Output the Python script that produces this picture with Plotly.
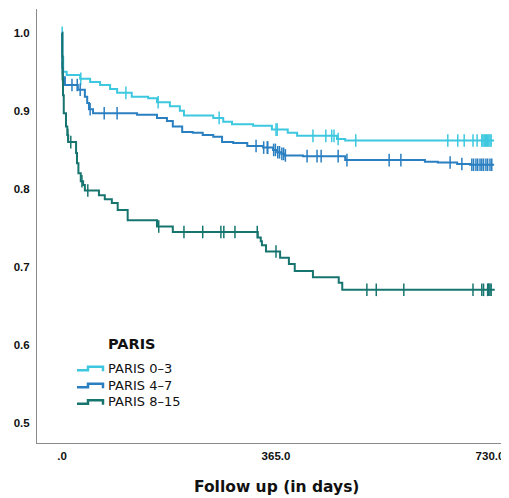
import numpy as np
import plotly.graph_objects as go

# ---- data ----
group_names = ["PARIS 0–3", "PARIS 4–7", "PARIS 8–15"]

cyan_t = [0, 0.5, 2, 8, 31, 48, 65, 82, 94, 119, 147, 162, 184, 201, 208, 258, 275, 290, 326, 358, 385, 401, 469, 483]
cyan_s = [1.0, 0.969, 0.950, 0.946, 0.941, 0.937, 0.933, 0.928, 0.923, 0.918, 0.916, 0.911, 0.906, 0.900, 0.894,
          0.891, 0.886, 0.883, 0.881, 0.876, 0.872, 0.868, 0.864, 0.862]
cyan_end = 737
cyan_cens = [0.3, 32, 109, 164, 268, 365, 367, 428, 450, 460, 464, 471, 501, 658, 675, 686, 701, 708,
             716, 718, 720, 722, 724, 726, 728, 730, 732]

blue_t = [0, 0.5, 1.7, 5, 27, 39, 43, 46, 53, 128, 162, 179, 189, 205, 223, 240, 258, 273, 292, 316, 343,
          360, 367, 374, 380, 411, 483, 619, 641, 674, 696]
blue_s = [1.0, 0.955, 0.943, 0.933, 0.927, 0.918, 0.910, 0.902, 0.897, 0.895, 0.891, 0.887, 0.880, 0.873, 0.872,
          0.869, 0.867, 0.860, 0.859, 0.855, 0.853, 0.850, 0.847, 0.845, 0.843, 0.842, 0.837, 0.835, 0.834,
          0.832, 0.831]
blue_end = 737
blue_cens = [0.6, 2, 17, 26, 31, 48, 72, 94, 331, 344, 350, 351, 361, 364, 368, 371, 375, 378, 381, 418, 435,
             442, 471, 486, 558, 578, 662, 682, 699, 702, 706, 709, 713, 716, 719, 723, 726, 730, 733]

teal_t = [0, 0.5, 1, 1.7, 3, 6.8, 9, 10.5, 24, 25.6, 28, 32, 36, 39, 63, 73, 85, 95, 112, 162, 189, 334, 339,
          341, 348, 372, 387, 397, 428, 472, 478]
teal_s = [1.0, 0.97, 0.94, 0.92, 0.897, 0.88, 0.869, 0.860, 0.846, 0.833, 0.820, 0.810, 0.805, 0.798, 0.792,
          0.787, 0.782, 0.773, 0.760, 0.752, 0.745, 0.738, 0.733, 0.728, 0.720, 0.712, 0.704, 0.695, 0.687,
          0.680, 0.671]
teal_end = 738
teal_cens = [1.2, 10, 15, 34, 44, 165, 208, 240, 271, 276, 295, 333, 365, 520, 536, 583, 701, 716, 719, 726,
             727, 728, 730, 732]

x_ticks = [0, 365, 730]
x_ticktext = [".0", "365.0", "730.0"]
y_ticks = [0.5, 0.6, 0.7, 0.8, 0.9, 1.0]
y_ticktext = ["0.5", "0.6", "0.7", "0.8", "0.9", "1.0"]
x_title = "Follow up (in days)"
legend_title = "PARIS"

colors = ["#3dc8df", "#2a7fc1", "#17756f"]

# ---- layout geometry (page pixels; the page body has an 8px margin) ----
OFF = 8
W, H = 509 - OFF, 498 - OFF
L, R, T, B = 37 - OFF, 0, 9 - OFF, 498 - 442.7
pw, ph = W - L - R, H - T - B


def px2paper(px, py):
    # px, py are page coordinates as measured on the reference
    return (px - OFF - L) / pw, (H - B - (py - OFF)) / ph


fig = go.Figure()
series = [(cyan_t, cyan_s, cyan_end, cyan_cens), (blue_t, blue_s, blue_end, blue_cens),
          (teal_t, teal_s, teal_end, teal_cens)]
for (t, s, end, cens), name, col in zip(series, group_names, colors):
    xs = list(t) + [end]
    ys = list(s) + [s[-1]]
    fig.add_trace(go.Scatter(x=xs, y=ys, mode="lines", line=dict(color=col, width=2, shape="hv"),
                             name=name, showlegend=False, hoverinfo="skip"))
    idx = np.searchsorted(np.array(t), np.array(cens), side="right") - 1
    cy = [s[i] for i in idx]
    fig.add_trace(go.Scatter(x=cens, y=cy, mode="markers",
                             marker=dict(symbol="line-ns", size=9, line=dict(color=col, width=1.5)),
                             name=name + " censored", showlegend=False, hoverinfo="skip"))

# ---- manual legend (step glyphs like the original) ----
font_main = "DejaVu Sans"
tick_font = dict(family="Liberation Sans", size=11.5, color="#111111", weight="bold")
fig.add_annotation(x=px2paper(106, 0)[0], y=px2paper(0, 344)[1], xref="paper", yref="paper",
                   text="<b>" + legend_title + "</b>", showarrow=False, xanchor="left", yanchor="middle",
                   font=dict(family=font_main, size=14.5, color="#111111"))
item_y = [368, 385, 401.5]
for name, col, yc in zip(group_names, colors, item_y):
    pts = [(77, yc + 2), (88, yc + 2), (88, yc - 1.5), (103, yc - 1.5), (103, yc + 3)]
    path = ""
    for k, (a, b) in enumerate(pts):
        xp, yp = px2paper(a, b)
        path += ("M" if k == 0 else "L") + f"{xp:.5f},{yp:.5f} "
    fig.add_shape(type="path", path=path, xref="paper", yref="paper",
                  line=dict(color=col, width=2.5))
    fig.add_annotation(x=px2paper(106, 0)[0], y=px2paper(0, yc)[1], xref="paper", yref="paper",
                       text=name, showarrow=False, xanchor="left", yanchor="middle",
                       font=dict(family=font_main, size=13, color="#111111"))

# x-axis title
fig.add_annotation(x=px2paper(276, 0)[0], y=px2paper(0, 486.5)[1], xref="paper", yref="paper",
                   text="<b>" + x_title + "</b>", showarrow=False, xanchor="center", yanchor="middle",
                   font=dict(family=font_main, size=15.5, color="#111111"))

x0 = 0 - (62 - 37) * 730 / 428
x1 = x0 + pw * 730 / 428
y0 = 0.475
y1 = y0 + ph / 781.0

fig.update_layout(
    width=W, height=H, margin=dict(l=L, r=R, t=T, b=B, autoexpand=False),
    paper_bgcolor="white", plot_bgcolor="white",
    font=dict(family=font_main, size=11, color="#111111"),
    xaxis=dict(range=[x0, x1], tickvals=x_ticks, ticktext=x_ticktext, ticks="", showgrid=False,
               zeroline=False, showline=True, linecolor="#8a8a8a", linewidth=1, ticklabelstandoff=2,
               tickfont=tick_font, automargin=False),
    yaxis=dict(range=[y0, y1], tickvals=y_ticks, ticktext=y_ticktext, ticks="", showgrid=False,
               zeroline=False, showline=True, linecolor="#8a8a8a", linewidth=1, ticklabelstandoff=4,
               tickfont=tick_font, automargin=False),
)

fig.write_html("out.html")
